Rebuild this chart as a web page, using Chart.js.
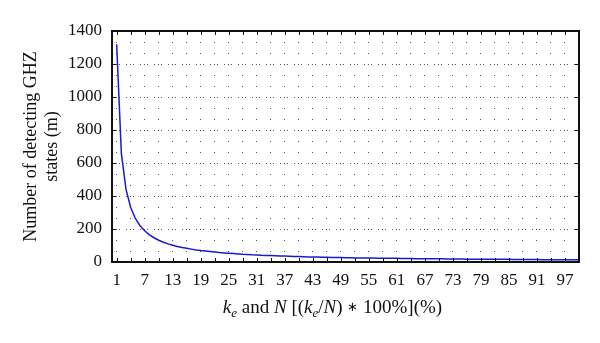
<!DOCTYPE html>
<html lang="en">
<head>
<meta charset="UTF-8">
<title>Number of detecting GHZ states</title>
<style>
  body { margin: 0; background: #fff; }
  #wrap { width: 600px; height: 343px; }
</style>
<script src="https://cdn.jsdelivr.net/npm/chart.js@4.4.1/dist/chart.umd.min.js"></script>
</head>
<body>
<div id="wrap"><canvas id="myChart" width="600" height="343"></canvas></div>
<script>
// k_e (x) and number of detecting GHZ states m (y)
const kValues = [1, 2, 3, 4, 5, 6, 7, 8, 9, 10,
  11, 12, 13, 14, 15, 16, 17, 18, 19, 20,
  21, 22, 23, 24, 25, 26, 27, 28, 29, 30,
  31, 32, 33, 34, 35, 36, 37, 38, 39, 40,
  41, 42, 43, 44, 45, 46, 47, 48, 49, 50,
  51, 52, 53, 54, 55, 56, 57, 58, 59, 60,
  61, 62, 63, 64, 65, 66, 67, 68, 69, 70,
  71, 72, 73, 74, 75, 76, 77, 78, 79, 80,
  81, 82, 83, 84, 85, 86, 87, 88, 89, 90,
  91, 92, 93, 94, 95, 96, 97, 98, 99, 100];
const mValues = [1320, 660, 440, 330, 264, 220, 189, 165, 147, 132,
  120, 110, 102, 94, 88, 83, 78, 73, 69, 66,
  63, 60, 57, 55, 53, 51, 49, 47, 46, 44,
  43, 41, 40, 39, 38, 37, 36, 35, 34, 33,
  32, 31, 31, 30, 29, 29, 28, 28, 27, 26,
  26, 25, 25, 24, 24, 24, 23, 23, 22, 22,
  22, 21, 21, 21, 20, 20, 20, 19, 19, 19,
  19, 18, 18, 18, 18, 17, 17, 17, 17, 17,
  16, 16, 16, 16, 16, 15, 15, 15, 15, 15,
  15, 14, 14, 14, 14, 14, 14, 13, 13, 13];

// x ticks every 3, labels on every other one
const xTicks = [1, 4, 7, 10, 13, 16, 19, 22, 25, 28, 31, 34, 37, 40, 43, 46, 49,
  52, 55, 58, 61, 64, 67, 70, 73, 76, 79, 82, 85, 88, 91, 94, 97];
const xLabels = ['1', '7', '13', '19', '25', '31', '37', '43', '49', '55', '61',
  '67', '73', '79', '85', '91', '97'];

const yTitle = ['Number of detecting GHZ', 'states (m)'];
// pieces of the x title: [text, style] (i = italic, s = subscript, a = asterisk)
const xTitle = [['k', 'i'], ['e', 's'], [' and ', ''], ['N', 'i'], [' [(', ''],
  ['k', 'i'], ['e', 's'], ['/', ''], ['N', 'i'], [') ', ''], ['\u2217', 'a'],
  [' 100%](%)', '']];

const serif = "'Liberation Serif', 'Times New Roman', serif";

// box, inward tick marks and the x title
const framePlugin = {
  id: 'frame',
  afterDraw(chart) {
    const { ctx, chartArea: a, scales: { x, y } } = chart;
    ctx.save();
    ctx.strokeStyle = '#111';
    ctx.lineWidth = 1;
    ctx.beginPath();
    x.ticks.forEach(t => {
      const px = Math.round(x.getPixelForValue(t.value)) + 0.5;
      ctx.moveTo(px, a.bottom); ctx.lineTo(px, a.bottom - 4);
      ctx.moveTo(px, a.top); ctx.lineTo(px, a.top + 4);
    });
    y.ticks.forEach(t => {
      const py = Math.round(y.getPixelForValue(t.value)) + 0.5;
      ctx.moveTo(a.left, py); ctx.lineTo(a.left + 4, py);
      ctx.moveTo(a.right, py); ctx.lineTo(a.right - 4, py);
    });
    ctx.stroke();
    ctx.lineWidth = 2;
    ctx.strokeRect(a.left, a.top, a.right - a.left, a.bottom - a.top);

    // x title
    const fonts = { i: 'italic 19px ', s: 'italic 13px ', a: '13px ', '': '19px ' };
    const shift = { i: 0, s: 4, a: -2, '': 0 };
    let total = 0;
    xTitle.forEach(p => { ctx.font = fonts[p[1]] + serif; total += ctx.measureText(p[0]).width; });
    let cx = (a.left + a.right) / 2 - 13 - total / 2;
    const base = a.bottom + 51;
    ctx.fillStyle = '#111';
    ctx.textBaseline = 'alphabetic';
    ctx.textAlign = 'left';
    xTitle.forEach(p => {
      ctx.font = fonts[p[1]] + serif;
      ctx.fillText(p[0], cx, base + shift[p[1]]);
      cx += ctx.measureText(p[0]).width;
    });
    ctx.restore();
  }
};

const ctx = document.getElementById('myChart').getContext('2d');
new Chart(ctx, {
  type: 'line',
  data: {
    datasets: [{
      data: kValues.map((k, i) => ({ x: k, y: mValues[i] })),
      borderColor: '#1a1ad0',
      borderWidth: 1.5,
      pointRadius: 0,
      fill: false,
      tension: 0
    }]
  },
  options: {
    responsive: false,
    animation: false,
    layout: { padding: { top: 31, right: 21, left: 0, bottom: 0 } },
    plugins: { legend: { display: false }, tooltip: { enabled: false } },
    scales: {
      x: {
        type: 'linear',
        min: 0,
        max: 100,
        afterBuildTicks: s => { s.ticks = xTicks.map(v => ({ value: v })); },
        afterFit: s => { s.height = 81; },
        border: { display: false, dash: [1, 10] },
        grid: { color: '#555', lineWidth: 1, drawTicks: false },
        ticks: {
          autoSkip: false,
          maxRotation: 0,
          padding: 8,
          color: '#111',
          font: { family: serif, size: 17 },
          callback: v => (xLabels.includes(String(v)) ? String(v) : '')
        }
      },
      y: {
        min: 0,
        max: 1400,
        afterFit: s => { s.width = 112; },
        border: { display: false, dash: [1, 6] },
        grid: { color: '#555', lineWidth: 1, drawTicks: false },
        ticks: {
          stepSize: 200,
          padding: 10,
          color: '#111',
          font: { family: serif, size: 17 },
          callback: v => String(v)
        },
        title: {
          display: true,
          text: yTitle,
          color: '#111',
          font: { family: serif, size: 18 },
          padding: { top: 20, bottom: 0 }
        }
      }
    }
  },
  plugins: [framePlugin]
});
</script>
</body>
</html>
